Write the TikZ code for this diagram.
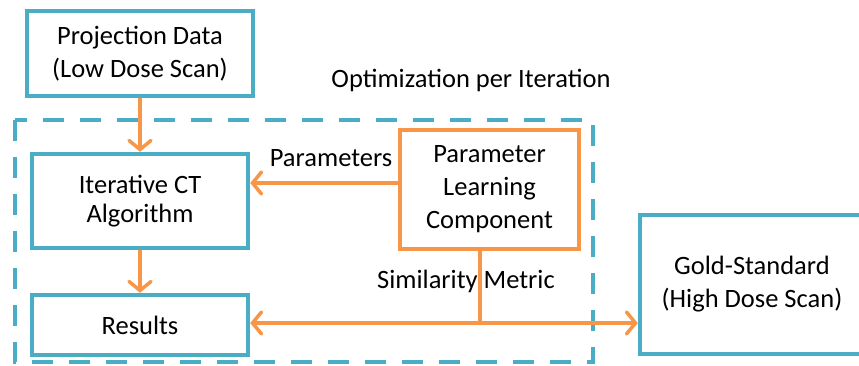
\documentclass[tikz,border=0pt]{standalone}
\usepackage{fontspec}
\setmainfont{Carlito}
\usetikzlibrary{arrows.meta}
\definecolor{cblue}{HTML}{4BACC6}
\definecolor{corange}{HTML}{F79646}
\begin{document}
\begin{tikzpicture}[x=1pt,y=-1pt,
  bluebox/.style={draw=cblue,line width=4.5pt,rectangle,align=center,inner sep=0pt,font=\fontsize{26.5}{33}\selectfont},
  orangebox/.style={draw=corange,line width=4pt,rectangle,align=center,inner sep=0pt,font=\fontsize{26.5}{33}\selectfont},
  conn/.style={draw=corange,line width=3.5pt,-{Straight Barb[length=9pt,width=22pt,line cap=round]}},
  lbl/.style={font=\fontsize{26.5}{30}\selectfont,anchor=base,inner sep=0pt}]
\useasboundingbox (0,0) rectangle (859,366);
\begin{scope}
\clip (0,0) rectangle (859,366);
\draw[cblue,line width=4pt,dash pattern=on 21pt off 16pt] (15,120) rectangle (593,362);
\node[bluebox,minimum width=226pt,minimum height=85pt] (proj) at (140,53.5) {Projection Data\\(Low Dose Scan)};
\node[bluebox,minimum width=216pt,minimum height=94pt,font=\fontsize{26.5}{29}\selectfont] (iter) at (140,201) {Iterative CT\\Algorithm};
\node[bluebox,minimum width=216pt,minimum height=60pt] (res) at (140,325) {Results};
\node[orangebox,minimum width=179pt,minimum height=119pt] (plc) at (489.5,189.5) {Parameter\\Learning\\Component};
\node[bluebox,minimum width=224pt,minimum height=139pt] (gold) at (752,284.5) {Gold-Standard\\(High Dose Scan)};
\node[lbl] (opt) at (471,88) {Optimization per Iteration};
\node[lbl] (par) at (331,167) {Parameters};
\node[lbl] (sim) at (466,288) {Similarity Metric};
\coordinate (j) at (plc.south |- res.east);
\draw[conn] (proj.south) -- (iter.north);
\draw[conn] (iter.south) -- (res.north);
\draw[conn] (plc.west |- 0,183) -- (iter.east |- 0,183);
\draw[corange,line width=3.5pt] ([xshift=-9.5pt]plc.south) -- ([xshift=-9.5pt]j);
\draw[conn,{Straight Barb[length=9pt,width=22pt,line cap=round]}-{Straight Barb[length=9pt,width=22pt,line cap=round]}] (res.east |- 0,323) -- (gold.west |- 0,323);
\end{scope}
\end{tikzpicture}
\end{document}
